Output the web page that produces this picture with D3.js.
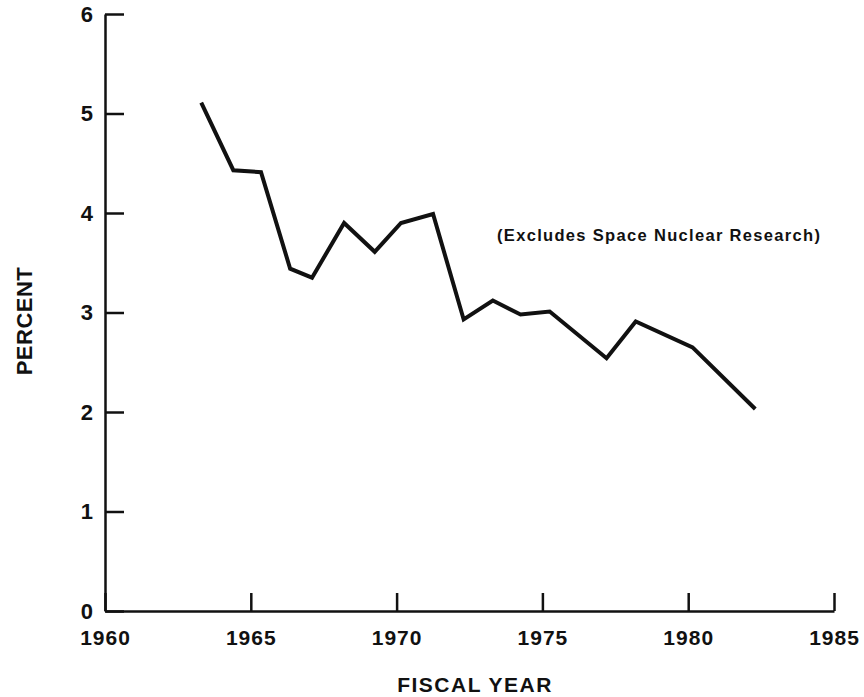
<!DOCTYPE html>
<html>
<head>
<meta charset="utf-8">
<script src="https://cdn.jsdelivr.net/npm/d3@7"></script>
<style>
  html, body { margin: 0; padding: 0; background: #fff; }
  svg { display: block; }
  text { font-family: "Liberation Sans", Arial, Helvetica, sans-serif; font-weight: bold; fill: #111; }
</style>
</head>
<body>
<svg id="chart" width="864" height="697"></svg>
<script>
// Data
const years = [1963.3, 1964.4, 1965.35, 1966.35, 1967.1, 1968.2, 1969.25, 1970.15, 1971.25, 1972.3, 1973.3, 1974.25, 1975.25, 1977.2, 1978.2, 1980.15, 1982.3];
const percents = [5.11, 4.43, 4.41, 3.44, 3.35, 3.90, 3.61, 3.90, 3.99, 2.93, 3.12, 2.98, 3.01, 2.54, 2.91, 2.65, 2.03];
const xTicks = [1960, 1965, 1970, 1975, 1980, 1985];
const yTicks = [0, 1, 2, 3, 4, 5, 6];
const xTitle = "FISCAL YEAR";
const yTitle = "PERCENT";
const note = "(Excludes Space Nuclear Research)";

const svg = d3.select("#chart");
const x = d3.scaleLinear().domain([1960, 1985]).range([105, 834]);
const y = d3.scaleLinear().domain([0, 6]).range([611, 14]);

const ink = "#111";

// X axis
const gx = svg.append("g").attr("transform", `translate(0,${y(0)})`)
  .call(d3.axisBottom(x).tickValues(xTicks).tickFormat(d3.format("d"))
    .tickSizeInner(-18).tickSizeOuter(0).tickPadding(19));
gx.select(".domain").attr("stroke", ink).attr("stroke-width", 2.5);
gx.selectAll(".tick line").attr("stroke", ink).attr("stroke-width", 2.5);
gx.selectAll(".tick text").attr("font-size", 21).attr("letter-spacing", "1px")
  .attr("fill", ink).attr("font-family", null);

// Y axis
const gy = svg.append("g").attr("transform", `translate(${x(1960)},0)`)
  .call(d3.axisLeft(y).tickValues(yTicks).tickFormat(d3.format("d"))
    .tickSizeInner(-19).tickSizeOuter(0).tickPadding(12));
gy.select(".domain").attr("stroke", ink).attr("stroke-width", 2.5);
gy.selectAll(".tick line").attr("stroke", ink).attr("stroke-width", 2.5);
gy.selectAll(".tick text").attr("font-size", 22).attr("fill", ink).attr("font-family", null);

// Line
const data = years.map((yr, i) => ({ yr, v: percents[i] }));
const line = d3.line().x(d => x(d.yr)).y(d => y(d.v));
svg.append("path").datum(data)
  .attr("d", line)
  .attr("fill", "none")
  .attr("stroke", ink)
  .attr("stroke-width", 4)
  .attr("stroke-linejoin", "miter")
  .attr("stroke-linecap", "butt");

// Note
svg.append("text")
  .attr("x", 497).attr("y", 241)
  .attr("font-size", 16.5)
  .attr("textLength", 323).attr("lengthAdjust", "spacing")
  .text(note);

// Axis titles
svg.append("text")
  .attr("x", 475).attr("y", 692)
  .attr("text-anchor", "middle")
  .attr("font-size", 21)
  .attr("letter-spacing", "1.5px")
  .text(xTitle);

svg.append("text")
  .attr("transform", "translate(32,321) rotate(-90)")
  .attr("text-anchor", "middle")
  .attr("font-size", 22)
  .attr("letter-spacing", "0.5px")
  .text(yTitle);
</script>
</body>
</html>
